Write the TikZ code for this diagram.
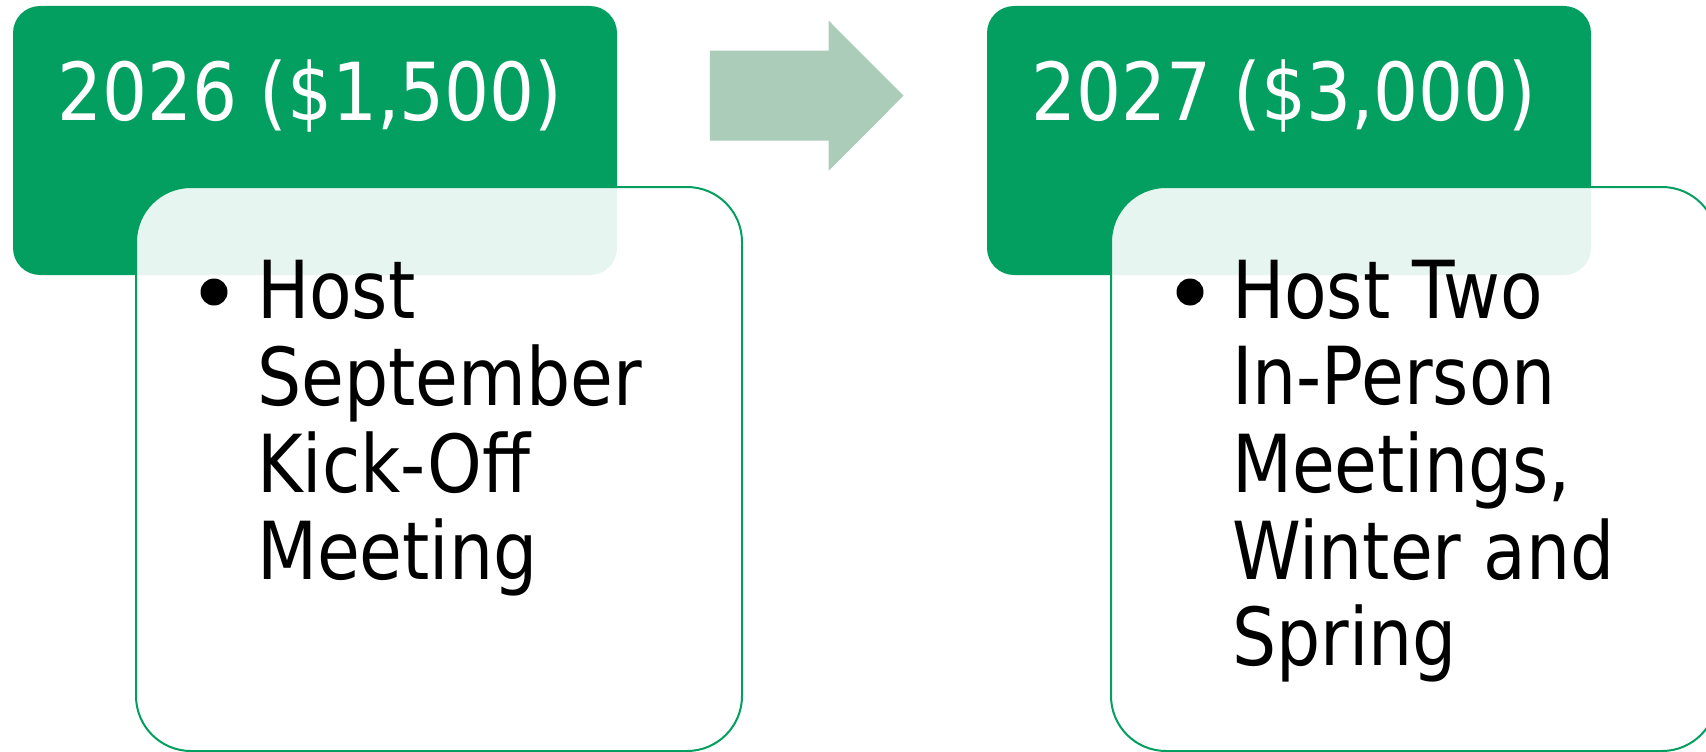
\documentclass[tikz,border=0pt]{standalone}
\usepackage{fontspec}
\newfontfamily\tah[FakeStretch=0.87]{DejaVu Sans}
\newfontfamily\tahhead[FakeStretch=0.885]{DejaVu Sans}
\definecolor{sgreen}{HTML}{039F61}
\definecolor{sarrow}{HTML}{AACCB8}
\begin{document}
\begin{tikzpicture}[x=1pt,y=-1pt,
  headbox/.style={fill=sgreen, draw=none, rounded corners=27pt, anchor=north west, inner sep=0pt, outer sep=0pt},
  bodybox/.style={fill=white, fill opacity=0.9, draw=sgreen, draw opacity=1, line width=2pt, rounded corners=55pt, anchor=north west, inner sep=0pt, outer sep=0pt},
  title/.style={anchor=base west, inner sep=0pt, outer sep=0pt, text=white, font=\tahhead\fontsize{80}{87}\selectfont},
  line/.style={anchor=base west, inner sep=0pt, outer sep=0pt, text=black, font=\tah\fontsize{80}{87}\selectfont},
  bul/.style={circle, fill=black, inner sep=0pt, minimum size=27pt}]
\useasboundingbox (0,0) rectangle (1706,752);
\fill[white] (0,0) rectangle (1706,752);
% first stage
\node[headbox, minimum width=604pt, minimum height=269pt] (h1) at (13,6) {};
\node[bodybox, minimum width=606pt, minimum height=564pt] (b1) at (136,187) {};
\node[title] (t1) at (57,120.7) {2026 (\$1,500)};
\node[bul] (u1) at (214,292) {};
\node[line] (l11) at (257,318.5) {Host};
\node[line] (l12) at (257,405) {September};
\node[line] (l13) at (257,492) {Kick-Off};
\node[line] (l14) at (257,579) {Meeting};
% arrow
\fill[sarrow] (709.8,50.7) -- (828.7,50.7) -- (828.7,20.7) -- (903.5,95.7) -- (828.7,170.7) -- (828.7,140.7) -- (709.8,140.7) -- cycle;
% second stage
\node[headbox, minimum width=604pt, minimum height=269pt] (h2) at (987,6) {};
\node[bodybox, minimum width=606pt, minimum height=564pt] (b2) at (1111,187) {};
\node[title] (t2) at (1031,120.7) {2027 (\$3,000)};
\node[bul] (u2) at (1190,292) {};
\node[line] (l21) at (1232,318.5) {Host Two};
\node[line] (l22) at (1232,404.5) {In-Person};
\node[line] (l23) at (1232,492) {Meetings,};
\node[line] (l24) at (1232,579) {Winter and};
\node[line] (l25) at (1232,665.7) {Spring};
\end{tikzpicture}
\end{document}
